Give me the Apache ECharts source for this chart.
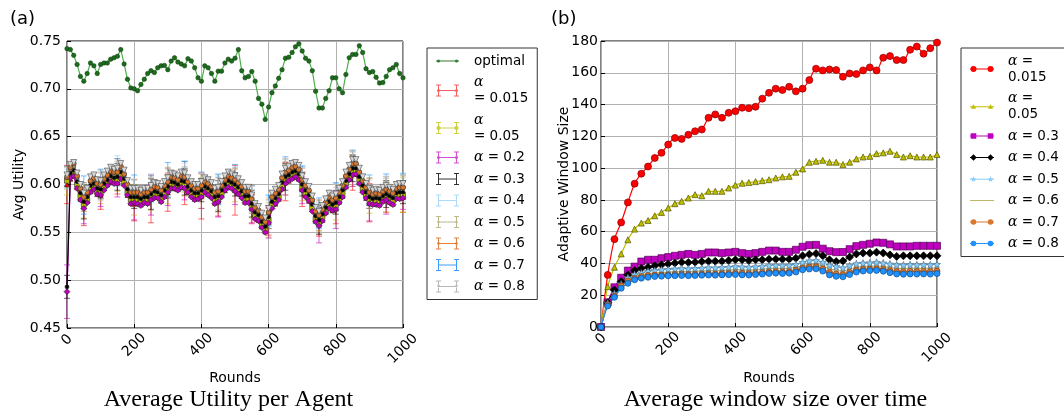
<!DOCTYPE html>
<html><head><meta charset="utf-8">
<script src="https://cdn.jsdelivr.net/npm/echarts@6/dist/echarts.min.js"></script>
<style>html,body{margin:0;padding:0;background:#fff}#c{width:1064px;height:414px}</style>
</head><body><div id="c"></div>
<script>
// ---------- DATA: left panel (rounds every 10) ----------
const roundsL = [0,10,20,30,40,50,60,70,80,90,100,110,120,130,140,150,160,170,180,190,200,210,220,230,240,250,260,270,280,290,300,310,320,330,340,350,360,370,380,390,400,410,420,430,440,450,460,470,480,490,500,510,520,530,540,550,560,570,580,590,600,610,620,630,640,650,660,670,680,690,700,710,720,730,740,750,760,770,780,790,800,810,820,830,840,850,860,870,880,890,900,910,920,930,940,950,960,970,980,990,1000];
const optimal = [.742,.741,.735,.7255,.713,.708,.716,.727,.724,.716,
 .7255,.727,.727,.731,.7325,.734,.741,.726,.710,.701,
 .700,.698,.7045,.710,.716,.719,.717,.722,.724,.7245,
 .720,.729,.7325,.728,.726,.724,.7315,.729,.722,.7115,
 .708,.724,.722,.716,.708,.7185,.7185,.727,.731,.729,
 .732,.741,.719,.7115,.713,.718,.708,.690,.684,.668,
 .681,.696,.703,.711,.720,.732,.733,.738,.744,.747,
 .7395,.732,.729,.719,.6975,.680,.680,.690,.698,.7115,
 .7115,.700,.696,.715,.7325,.736,.736,.745,.738,.721,
 .717,.718,.712,.706,.7065,.713,.720,.722,.7255,.716,.7115];
const u015 = [.600,.606,.611,.597,.585,.577,.583,.593,.596,.590,
 .589,.596,.600,.603,.602,.602,.608,.601,.589,.581,
 .580,.582,.579,.582,.581,.585,.587,.587,.583,.588,
 .592,.598,.596,.595,.598,.597,.592,.589,.585,.586,
 .588,.592,.590,.588,.581,.583,.589,.594,.598,.597,
 .594,.591,.588,.582,.583,.575,.566,.563,.556,.551,
 .561,.577,.580,.585,.596,.603,.604,.607,.609,.606,
 .595,.589,.583,.574,.562,.558,.563,.571,.577,.573,
 .575,.582,.588,.598,.606,.612,.611,.602,.594,.586,
 .581,.580,.580,.579,.583,.585,.582,.580,.586,.586,.587];
const u05 = [.604,.609,.612,.600,.588,.579,.584,.596,.598,.593,
 .592,.598,.602,.606,.604,.605,.609,.603,.592,.584,
 .584,.583,.582,.584,.583,.587,.590,.589,.586,.591,
 .595,.600,.599,.597,.601,.600,.595,.591,.588,.588,
 .591,.595,.593,.590,.584,.585,.591,.597,.601,.599,
 .597,.594,.590,.585,.585,.577,.568,.565,.558,.553,
 .563,.579,.583,.587,.599,.605,.607,.610,.611,.608,
 .597,.591,.586,.576,.564,.560,.566,.573,.579,.576,
 .578,.584,.591,.601,.608,.614,.614,.605,.596,.589,
 .584,.582,.583,.582,.585,.587,.585,.583,.588,.589,.589];
const u2 = [.488,.607,.609,.596,.584,.575,.581,.592,.595,.590,
 .589,.594,.599,.603,.601,.601,.606,.599,.589,.580,
 .581,.580,.578,.581,.580,.584,.586,.586,.582,.587,
 .592,.596,.596,.594,.597,.596,.592,.587,.584,.585,
 .587,.592,.589,.586,.580,.582,.587,.594,.597,.596,
 .593,.590,.586,.581,.581,.574,.564,.562,.555,.550,
 .560,.575,.580,.584,.595,.601,.604,.606,.608,.605,
 .594,.587,.583,.572,.561,.557,.562,.570,.575,.573,
 .574,.581,.587,.597,.605,.610,.611,.601,.592,.586,
 .580,.579,.579,.578,.582,.584,.581,.579,.585,.585,.586];
const u3 = [.493,.612,.615,.603,.591,.582,.587,.599,.601,.596,
 .595,.601,.605,.609,.607,.608,.613,.606,.595,.587,
 .587,.587,.585,.587,.587,.590,.593,.592,.589,.594,
 .598,.603,.602,.600,.604,.603,.598,.594,.591,.591,
 .594,.598,.596,.593,.587,.588,.594,.600,.604,.602,
 .600,.597,.593,.588,.588,.580,.571,.568,.561,.556,
 .566,.582,.586,.590,.602,.608,.610,.613,.614,.611,
 .600,.594,.589,.579,.567,.563,.569,.576,.582,.579,
 .581,.587,.594,.604,.611,.617,.617,.608,.599,.592,
 .587,.585,.586,.585,.588,.590,.588,.586,.591,.592,.592];
const u4 = [.606,.618,.621,.609,.597,.588,.593,.605,.607,.602,
 .601,.607,.611,.615,.613,.614,.619,.612,.601,.593,
 .593,.593,.591,.593,.593,.596,.599,.598,.595,.600,
 .604,.609,.608,.606,.610,.609,.604,.600,.597,.597,
 .600,.604,.602,.599,.593,.594,.600,.606,.610,.608,
 .606,.603,.599,.594,.594,.586,.577,.574,.567,.562,
 .572,.588,.592,.596,.608,.614,.616,.619,.620,.617,
 .606,.600,.595,.585,.573,.569,.575,.582,.588,.585,
 .587,.593,.600,.610,.617,.623,.623,.614,.605,.598,
 .593,.591,.592,.591,.594,.596,.594,.592,.597,.598,.598];
const u5 = [.607,.616,.619,.607,.595,.586,.591,.603,.605,.600,
 .599,.605,.609,.613,.611,.612,.617,.610,.599,.591,
 .591,.591,.589,.591,.591,.594,.597,.596,.593,.598,
 .602,.607,.606,.604,.608,.607,.602,.598,.595,.595,
 .598,.602,.600,.597,.591,.592,.598,.604,.608,.606,
 .604,.601,.597,.592,.592,.584,.575,.572,.565,.560,
 .570,.586,.590,.594,.606,.612,.614,.617,.618,.615,
 .604,.598,.593,.583,.571,.567,.573,.580,.586,.583,
 .585,.591,.598,.608,.615,.621,.621,.612,.603,.596,
 .591,.589,.590,.589,.592,.594,.592,.590,.595,.596,.596];
const u6 = [.608,.618,.622,.609,.596,.587,.592,.604,.607,.601,
 .600,.606,.610,.614,.613,.613,.619,.611,.600,.592,
 .592,.592,.590,.592,.592,.595,.598,.597,.594,.599,
 .603,.608,.607,.605,.609,.608,.603,.599,.596,.596,
 .599,.603,.601,.598,.592,.593,.599,.605,.609,.607,
 .605,.602,.598,.593,.593,.585,.576,.573,.566,.561,
 .571,.587,.591,.595,.607,.613,.615,.618,.619,.616,
 .605,.599,.594,.584,.572,.568,.574,.581,.587,.584,
 .586,.592,.599,.609,.616,.622,.622,.613,.604,.597,
 .592,.590,.591,.590,.593,.595,.593,.591,.596,.597,.597];
const u7 = [.609,.619,.621,.610,.598,.589,.594,.606,.608,.603,
 .602,.608,.612,.616,.614,.615,.620,.613,.602,.594,
 .594,.594,.592,.594,.594,.597,.600,.599,.596,.601,
 .605,.610,.609,.607,.611,.610,.605,.601,.598,.598,
 .601,.605,.603,.600,.594,.595,.601,.607,.611,.609,
 .607,.604,.600,.595,.595,.587,.578,.575,.568,.563,
 .573,.589,.593,.597,.609,.615,.617,.620,.621,.618,
 .607,.601,.596,.586,.574,.570,.576,.583,.589,.586,
 .588,.594,.601,.611,.618,.624,.624,.615,.606,.599,
 .594,.592,.593,.592,.595,.597,.595,.593,.598,.599,.599];
const u8 = [.610,.621,.623,.612,.600,.591,.596,.608,.610,.605,
 .604,.610,.614,.618,.616,.617,.622,.615,.604,.596,
 .596,.596,.594,.596,.596,.599,.602,.601,.598,.603,
 .607,.612,.611,.609,.613,.612,.607,.603,.600,.600,
 .603,.607,.605,.602,.596,.597,.603,.609,.613,.611,
 .609,.606,.602,.597,.597,.589,.580,.577,.570,.565,
 .575,.591,.595,.599,.611,.617,.619,.622,.623,.620,
 .609,.603,.598,.588,.576,.572,.578,.585,.591,.588,
 .590,.596,.603,.613,.620,.626,.626,.617,.608,.601,
 .596,.594,.595,.594,.597,.599,.597,.595,.600,.601,.601];
// error bars every 50 rounds (half-widths)
const errRounds = [0,50,100,150,200,250,300,350,400,450,500,550,600,650,700,750,800,850,900,950,1000];
const e015 = [.020,.020,.015,.012,.018,.025,.020,.018,.024,.016,.026,.015,.014,.020,.018,.012,.016,.018,.020,.014,.016];
const e05  = [.015,.014,.012,.012,.016,.014,.015,.012,.016,.014,.015,.012,.018,.016,.014,.012,.015,.016,.014,.016,.018];
const e2   = [.028,.016,.012,.014,.018,.016,.014,.012,.012,.016,.014,.015,.016,.012,.014,.018,.020,.012,.018,.015,.012];
const e3   = [.012,.018,.010,.014,.012,.016,.012,.014,.012,.016,.012,.014,.012,.014,.012,.015,.012,.014,.012,.014,.012];
const e4   = [.010,.014,.012,.016,.012,.015,.012,.016,.012,.014,.012,.014,.016,.012,.014,.012,.014,.012,.014,.012,.014];
const e5   = [.012,.014,.016,.012,.014,.012,.016,.012,.014,.018,.012,.014,.016,.012,.014,.016,.012,.014,.016,.012,.014];
const e6   = [.010,.015,.012,.014,.013,.012,.014,.016,.012,.014,.012,.015,.013,.014,.012,.016,.014,.012,.014,.013,.012];
const e7   = [.010,.020,.014,.012,.016,.012,.018,.014,.012,.016,.014,.012,.016,.014,.012,.016,.014,.012,.016,.014,.012];
const e8   = [.008,.010,.009,.008,.010,.009,.008,.010,.009,.008,.010,.009,.008,.010,.009,.008,.010,.009,.008,.010,.009];

// ---------- DATA: right panel (rounds every 20) ----------
const roundsR = [0,20,40,60,80,100,120,140,160,180,200,220,240,260,280,300,320,340,360,380,400,420,440,460,480,500,520,540,560,580,600,620,640,660,680,700,720,740,760,780,800,820,840,860,880,900,920,940,960,980,1000];
const w015 = [0,32.8,55.3,65.8,78.4,90.2,96.5,101,106.4,109.6,
 114.8,119,118.4,121,123.2,124.3,131.7,133.8,131.7,134.8,
 135.8,138,137.7,138.6,143.7,147.4,150,149.2,151.2,148.3,
 150,155.4,162.6,161.5,162.1,161.7,157.5,159.6,159.2,161.5,
 163.4,161.5,169.5,170.5,168,168,174.5,176.5,172,175.5,179];
const w05 = [0,25.4,37.6,46,54.9,61.6,65.4,67,70,72.1,
 74.9,77.6,79.1,81.2,83.3,82.6,85.4,85.4,85.4,87.5,
 89.3,90.5,90.9,91.5,92.1,92.7,93.8,94.5,94.8,97.4,
 99.5,103.7,104.3,104.9,103.7,103.7,102.2,103.7,105.8,107,
 107.4,109.1,109.6,110.6,108.5,107,107.8,107,107,107,108.5];
const w3 = [0,15.5,25,31,35.5,38,41.2,42.3,42.3,43.3,
 44,44.8,45.4,46,45.4,46,46.9,46.9,46.5,46.9,
 47.3,46.5,46,46.5,47.3,48.1,48.1,47.3,47.3,48.6,
 50.5,51.5,51.7,49.3,47.7,47.1,47.2,49,50.9,51.7,
 52.4,53.2,53,52,50.7,50.7,50.7,51.1,51.1,51.1,51.1];
const w4 = [0,15.3,23.3,28.6,32.8,35.5,37,37.6,38.5,39.1,
 39.7,40.2,40.8,40.6,40.8,41.2,41.4,41.4,41.4,41.8,
 42.3,42.3,41.8,42.3,42.3,42.7,42.7,42.7,42.7,43.3,
 44.8,45.8,46.2,44.8,42.3,41.2,41.6,44,46,46.5,
 46.5,47.1,46.5,45.4,44.4,44.8,44.8,44.8,44.8,44.8,44.8];
const w5 = [0,15,21,27,31,33,34,35,35.5,36,
 36.2,36.5,36.8,36.6,36.8,37,37.3,37.2,37.4,37.6,
 38,37.8,37.6,37.9,38.2,38.6,38.8,38.6,38.8,39.4,
 40.6,41.6,41.8,40.6,38.8,38,37.2,38.6,39.8,40.2,
 40.4,40.7,40.3,39.6,39.1,39,39.2,39.1,39.2,39.1,39.4];
const w6 = [0,14.5,20,26,29.8,31.8,32.8,33.6,34,34.3,
 34.5,34.8,35,34.9,35.1,35.3,35.5,35.4,35.6,35.8,
 36.1,35.9,35.8,36.1,36.4,36.8,37,36.8,37,37.6,
 38.5,39.4,39.6,38.5,36.6,35.6,35.2,36.6,37.6,38,
 38.2,38.4,38.1,37.4,36.9,36.8,37,36.9,37,36.9,37.2];
const w7 = [0,14,19.5,25.9,29,30.7,31.8,32.4,32.6,32.7,
 32.8,33,33.1,33,33.1,33.2,33.4,33.3,33.5,33.7,
 33.9,33.8,33.6,33.9,34.2,34.6,34.8,34.6,34.8,35.6,
 37,37.7,37.9,36.5,34.4,33.4,33,34.4,35.8,36.2,
 36.4,36.6,36.2,35.4,34.9,34.8,35,34.9,35,34.9,35.2];
const w8 = [0,13.2,18.7,24.4,27.5,29.7,30.7,31.3,31.8,32,
 32.2,32.3,32.4,32.3,32.4,32.6,32.7,32.6,32.8,32.9,
 33,32.8,32.7,33,33.3,33.7,33.9,33.7,33.9,34.6,
 36,36.5,36.6,35.2,32.8,31.9,31.6,33,34.6,35.2,
 35.5,35.6,35.1,34.2,33.4,33.2,33.4,33.3,33.4,33.3,33.6];

const xTicks = [0,200,400,600,800,1000];
const alphasL = ['0.015','0.05','0.2','0.3','0.4','0.5','0.6','0.7','0.8'];
const alphasR = ['0.015','0.05','0.3','0.4','0.5','0.6','0.7','0.8'];

// ---------- styling ----------
const FONT = 'DejaVu Sans';
const pairs = (xs, ys) => ys.map((v, i) => [xs[i], v]);

function circ(cx, cy, r){ return `M${cx-r},${cy}A${r},${r},0,1,1,${cx+r},${cy}A${r},${r},0,1,1,${cx-r},${cy}Z`; }
function sq(cx, cy, r){ return `M${cx-r},${cy-r}H${cx+r}V${cy+r}H${cx-r}Z`; }
function dia(cx, cy, r){ return `M${cx},${cy-r}L${cx+r},${cy}L${cx},${cy+r}L${cx-r},${cy}Z`; }
function triU(cx, cy, r){ return `M${cx},${cy-r}L${cx+r},${cy+r*0.8}L${cx-r},${cy+r*0.8}Z`; }
function triD(cx, cy, r){ return `M${cx-r},${cy-r*0.8}L${cx+r},${cy-r*0.8}L${cx},${cy+r}Z`; }
function star(cx, cy, r){
  let s = '';
  for (let k = 0; k < 10; k++) {
    const a = -Math.PI/2 + k*Math.PI/5, rr = k % 2 ? r*0.45 : r;
    s += (k ? 'L' : 'M') + (cx + rr*Math.cos(a)).toFixed(2) + ',' + (cy + rr*Math.sin(a)).toFixed(2);
  }
  return s + 'Z';
}
const mk = {circ, sq, dia, triU, triD, star};
function errIcon(m, r){
  const cap = cx => `M${cx-2.5},0H${cx+2.5}V1H${cx-2.5}Z M${cx-0.5},0H${cx+0.5}V12H${cx-0.5}Z M${cx-2.5},11H${cx+2.5}V12H${cx-2.5}Z`;
  let p = cap(2.5) + ' ' + cap(20.5) + ' M2.5,5.5H20.5V6.5H2.5Z';
  if (m) p += ' ' + mk[m](2.5, 6, r) + ' ' + mk[m](20.5, 6, r);
  return 'path://' + p;
}
function lineIcon(m, r){
  let p = 'M0,3.5H24V4.5H0Z';
  if (m) p += ' ' + mk[m](3.5, 4, r) + ' ' + mk[m](20.5, 4, r);
  return 'path://' + p;
}

const styleL = [
  {c:'#ff0000', sym:'triangle', size:5, lm:'circ', lr:1.5, lc:'#f26060'},
  {c:'#bfbf00', sym:'rect', size:5, lm:'sq', lr:1.8, lc:'#cfcf40'},
  {c:'#bf00bf', sym:'diamond', size:6, lm:'circ', lr:1.6, lc:'#d050d0'},
  {c:'#000000', sym:'circle', size:4, lm:null, lc:'#333333'},
  {c:'#87cefa', sym:'none', size:0, lm:null, lc:'#a8dcfa'},
  {c:'#b5b07a', sym:'circle', size:4, lm:'circ', lr:1.3, lc:'#bdb88a'},
  {c:'#d9772e', sym:'circle', size:5, lm:'circ', lr:1.4, lc:'#e08040'},
  {c:'#1e90ff', sym:'none', size:0, lm:null, w:1.6, lc:'#3c9cf8'},
  {c:'#d8d8d8', sym:'triangle', rot:180, size:6, lm:'triD', lr:1.6, lc:'#b8b8b8', b:'#444'}
];
const seriesL = [u015,u05,u2,u3,u4,u5,u6,u7,u8];
const errL = [e015,e05,e2,e3,e4,e5,e6,e7,e8];

const styleR = [
  {c:'#ff0000', sym:'circle', size:7, b:'#8b0000', lm:'circ', lr:3},
  {c:'#bfbf00', sym:'triangle', size:6, b:'#555500', lm:'triU', lr:2.6},
  {c:'#bf00bf', sym:'rect', size:7, b:'#550055', lm:'sq', lr:2.8},
  {c:'#000000', sym:'diamond', size:8, b:'#000', lm:'dia', lr:3.2},
  {c:'#87cefa', sym:'path://'+star(0,0,10), size:7, b:'#4a6f8b', lm:'star', lr:3},
  {c:'#bdb76b', sym:'none', size:0, lm:null},
  {c:'#d9772e', sym:'circle', size:6, b:'#7a3a10', lm:'circ', lr:2.8},
  {c:'#1e90ff', sym:'circle', size:6, b:'#0f4f8f', lm:'circ', lr:2.8}
];
const seriesR = [w015,w05,w3,w4,w5,w6,w7,w8];

function errRender(params, api){
  const x = api.value(0), lo = api.value(1), hi = api.value(2);
  const p1 = api.coord([x, hi]), p2 = api.coord([x, lo]);
  const st = {stroke: api.visual('color'), lineWidth: 1.1, opacity: 0.55};
  return {type:'group', children:[
    {type:'line', shape:{x1:p1[0], y1:p1[1], x2:p2[0], y2:p2[1]}, style:st},
    {type:'line', shape:{x1:p1[0]-3, y1:p1[1], x2:p1[0]+3, y2:p1[1]}, style:st},
    {type:'line', shape:{x1:p2[0]-3, y1:p2[1], x2:p2[0]+3, y2:p2[1]}, style:st}
  ]};
}

const series = [];
series.push({
  name:'optimal', type:'line', xAxisIndex:0, yAxisIndex:0, data: pairs(roundsL, optimal),
  symbol:'circle', symbolSize:4.5, z:3,
  lineStyle:{color:'#4caf4c', width:1.2},
  itemStyle:{color:'#1e6b1e', borderColor:'#0b3d0b', borderWidth:0.5}
});
alphasL.forEach((a, i) => {
  const s = styleL[i], name = 'L' + a;
  series.push({
    name, type:'line', xAxisIndex:0, yAxisIndex:0, data: pairs(roundsL, seriesL[i]),
    symbol: s.sym, symbolSize: s.size, symbolRotate: s.rot || 0,
    lineStyle:{color:s.c === '#d8d8d8' ? '#bbbbbb' : s.c, width:s.w || 1.2},
    itemStyle:{color:s.c, borderColor:s.b || '#222', borderWidth:0.6}
  });
  series.push({
    name, type:'custom', xAxisIndex:0, yAxisIndex:0, renderItem: errRender,
    itemStyle:{color:s.c},
    encode:{x:0, y:[1,2]},
    data: errRounds.map((r, k) => {
      const v = seriesL[i][k*5];
      return [r, v - errL[i][k], v + errL[i][k]];
    })
  });
});
alphasR.forEach((a, i) => {
  const s = styleR[i];
  series.push({
    name:'R' + a, type:'line', xAxisIndex:1, yAxisIndex:1, data: pairs(roundsR, seriesR[i]),
    smooth:0.3, symbol:s.sym, symbolSize:s.size,
    lineStyle:{color:s.c, width:1.2},
    itemStyle:{color:s.c, borderColor:s.b || s.c, borderWidth:0.7}
  });
});

const labelText = {
  'L0.015':'{a|α}\n= 0.015', 'L0.05':'{a|α}\n= 0.05',
  'R0.015':'{a|α} =\n0.015', 'R0.05':'{a|α} =\n0.05'
};
const legendFmt = n => n === 'optimal' ? 'optimal' : (labelText[n] || ('{a|α} = ' + n.slice(1)));
const legendText = {
  color:'#000', fontFamily:FONT, fontSize:13.5, lineHeight:16, padding:[0,0,0,10],
  rich:{a:{fontFamily:'DejaVu Serif', fontStyle:'italic', fontSize:14, lineHeight:16, color:'#000'}}
};
const iconStyle = c => ({color:c, borderWidth:0, borderColor:c, opacity:1});

const xLabel = {
  rotate:45, align:'center', verticalAlign:'middle', margin:16, color:'#000', fontFamily:FONT, fontSize:14,
  formatter: v => v === 0 ? '{z|0}' : (v === 1000 ? '{k|1000}' : '{m|' + v + '}'),
  rich:{ z:{padding:[0,0,5.7,5.7]}, m:{padding:[1.4,1.4,0,0]}, k:{padding:[7,7,0,0]} }
};
const axisCommon = {
  axisLine:{show:false},
  axisTick:{show:true, inside:true, length:4, lineStyle:{color:'#000'}},
  splitLine:{show:true, lineStyle:{color:'#b0b0b0', width:1}},
  nameMoveOverlap:false,
  nameTextStyle:{color:'#000', fontFamily:FONT, fontSize:14}
};

const option = {
  animation:false,
  backgroundColor:'#fff',
  grid:[
    {left:67, top:41, width:336, height:287, show:true, borderColor:'#000', borderWidth:1, outerBoundsMode:'none', containLabel:false},
    {left:601, top:41, width:336, height:286, show:true, borderColor:'#000', borderWidth:1, outerBoundsMode:'none', containLabel:false}
  ],
  xAxis:[
    Object.assign({gridIndex:0, type:'value', min:0, max:1000, interval:200, name:'Rounds', nameLocation:'middle', nameGap:43, axisLabel:xLabel}, axisCommon),
    Object.assign({gridIndex:1, type:'value', min:0, max:1000, interval:200, name:'Rounds', nameLocation:'middle', nameGap:44, axisLabel:xLabel}, axisCommon)
  ],
  yAxis:[
    Object.assign({gridIndex:0, type:'value', min:0.45, max:0.75, interval:0.05, name:'Avg Utility', nameLocation:'middle', nameGap:41,
      axisLabel:{margin:6, color:'#000', fontFamily:FONT, fontSize:14, formatter: v => v.toFixed(2)}}, axisCommon),
    Object.assign({gridIndex:1, type:'value', min:0, max:180, interval:20, name:'Adaptive Window Size', nameLocation:'middle', nameGap:30,
      axisLabel:{margin:3, color:'#000', fontFamily:FONT, fontSize:14}}, axisCommon)
  ],
  legend:[
    {
      orient:'vertical', left:427, top:48, itemGap:5.5, itemWidth:23, itemHeight:12, padding:[5,9,5,9],
      borderColor:'#333', borderWidth:1, backgroundColor:'#fff', symbolKeepAspect:true, selectedMode:false,
      textStyle:legendText, formatter:legendFmt,
      data:[{name:'optimal', icon:'path://M0,5.5H23V6.5H0Z ' + circ(2.5,6,1.6) + ' ' + circ(20.5,6,1.6), itemStyle:iconStyle('#2e7d2e')}]
        .concat(alphasL.map((a, i) => ({name:'L' + a, icon:errIcon(styleL[i].lm, styleL[i].lr), itemStyle:iconStyle(styleL[i].lc)})))
    },
    {
      orient:'vertical', left:961, top:48, itemGap:5.5, itemWidth:24, itemHeight:12, padding:[5,30,5,9],
      borderColor:'#333', borderWidth:1, backgroundColor:'#fff', symbolKeepAspect:true, selectedMode:false,
      textStyle:Object.assign({}, legendText, {padding:[0,0,0,9]}), formatter:legendFmt,
      data: alphasR.map((a, i) => ({name:'R' + a, icon:lineIcon(styleR[i].lm, styleR[i].lr), itemStyle:iconStyle(styleR[i].c)}))
    }
  ],
  graphic:[
    {type:'text', left:10, top:10, style:{text:'(a)', fontFamily:FONT, fontSize:18, fill:'#000'}},
    {type:'text', left:551, top:10, style:{text:'(b)', fontFamily:FONT, fontSize:18, fill:'#000'}},
    {type:'text', x:228.5, y:400, style:{text:'Average Utility per Agent', fontFamily:'Liberation Serif', fontSize:24, fill:'#000', align:'center', verticalAlign:'middle'}},
    {type:'text', x:775.5, y:400, style:{text:'Average window size over time', fontFamily:'Liberation Serif', fontSize:24, fill:'#000', align:'center', verticalAlign:'middle'}}
  ],
  series
};
const chart = echarts.init(document.getElementById('c'), null, {renderer:'canvas'});
chart.setOption(option);
</script></body></html>
